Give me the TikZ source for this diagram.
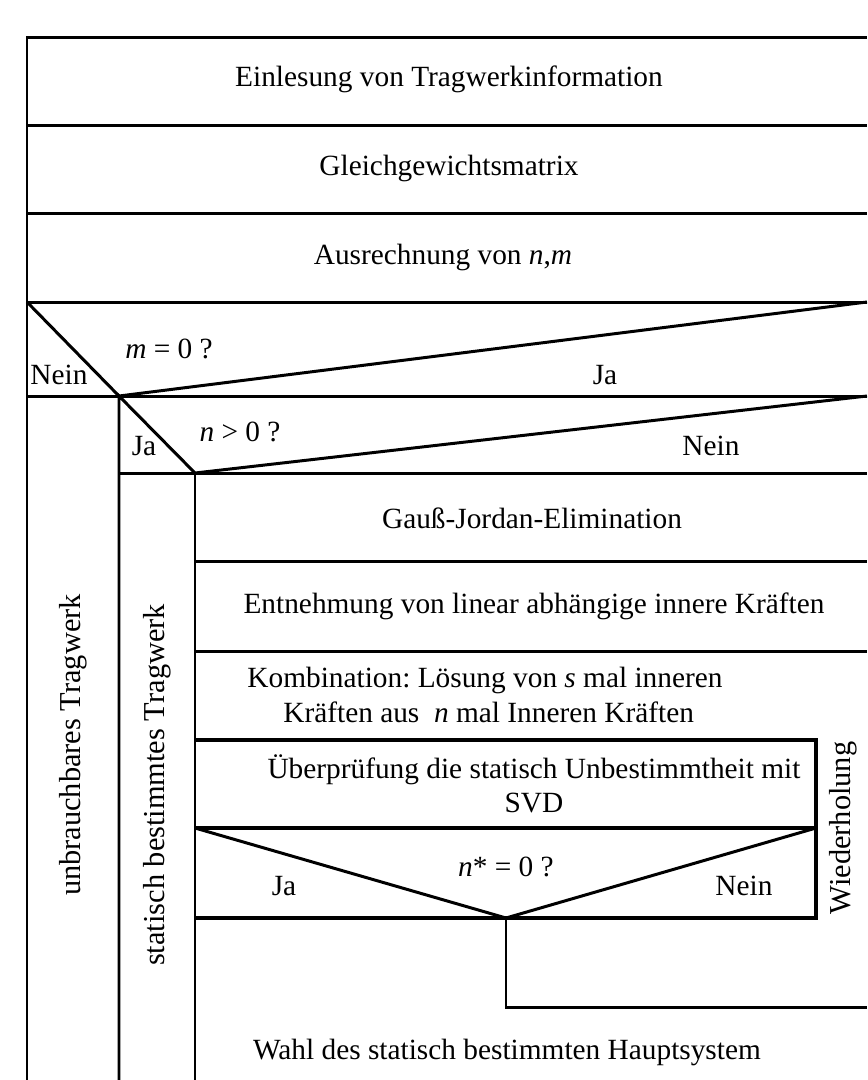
\documentclass[tikz,border=0pt]{standalone}
\usepackage{fontspec}
\setmainfont{Liberation Serif}
\usepackage{tikz}
\usetikzlibrary{positioning}
\frenchspacing

\tikzset{
  rule/.style={line width=1.7pt},
  boxrule/.style={line width=2.2pt},
  lbl/.style={font=\fontsize{16.7}{19.5}\selectfont, inner sep=0pt, align=center},
  side/.style={lbl, font=\fontsize{17.3}{20}\selectfont, rotate=90},
}

\begin{document}
\begin{tikzpicture}[x=0.02cm,y=-0.02cm]
\useasboundingbox (0,0) rectangle (867,1080);

\coordinate (tl) at (27,37);
\coordinate (tr) at (867,37);
\coordinate (ml) at (27,302);
\coordinate (mr) at (867,302);
\coordinate (mtip) at (119,396);
\coordinate (nr) at (867,396);
\coordinate (ntip) at (195,473);
\coordinate (nr2) at (867,473);
\coordinate (bl) at (27,1080);
\coordinate (bm) at (119,1080);
\coordinate (bi) at (195,1080);

% Nassi-Shneiderman frame
\draw[rule] (bl) -- (tl) -- (tr);
\foreach \y in {125,213} \draw[rule] (27,\y) -- (867,\y);
\draw[rule] (ml) -- (mr);
\draw[rule] (ml) -- (mtip) -- (mr);
\draw[rule] (mtip -| tl) -- (nr);
\draw[rule] (bm) -- (mtip) -- (ntip) -- (nr);
\draw[rule] (mtip |- ntip) -- (nr2);
\draw[rule] (bi) -- (ntip);
\foreach \y in {561,651} \draw[rule] (195,\y) -- (867,\y);

% loop body
\coordinate (bxtl) at (195,740);
\coordinate (bxtr) at (816,740);
\coordinate (dl) at (195,828);
\coordinate (dr) at (816,828);
\coordinate (dtip) at (506,918);
\coordinate (bxbr) at (816,918);
\coordinate (loopc) at (506,1007);
\coordinate (loope) at (867,1007);
\draw[boxrule] (bxtl) -- (bxtr) -- (bxbr) -- (bxbr -| bxtl);
\draw[boxrule] (dl) -- (dr);
\draw[rule] (dl) -- (dtip) -- (dr);
\draw[rule] (dtip) -- (loopc) -- (loope);

\node[lbl] (einl) at (449,79) {Einlesung von Tragwerkinformation};
\node[lbl] (ggm) at (449,168) {Gleichgewichtsmatrix};
\node[lbl] (ausr) at (443,257) {Ausrechnung von \textit{n},\textit{m}};
\node[lbl] (mq) at (169,349) {\textit{m} = 0 ?};
\node[lbl] (mnein) at (59,375) {Nein};
\node[lbl] (mja) at (605,375) {Ja};
\node[lbl] (nq) at (240,432) {\textit{n} > 0 ?};
\node[lbl] (nja) at (144,446) {Ja};
\node[lbl] (nnein) at (711,446) {Nein};
\node[lbl] (gauss) at (532,518) {Gauß-Jordan-Elimination};
\node[lbl] (entn) at (534,606) {Entnehmung von linear abhängige innere Kräften};
\node[lbl] (komb) at (485,695) {Kombination: Lösung von \textit{s} mal inneren\\
  \ Kräften aus \ \textit{n} mal Inneren Kräften};
\node[lbl] (pruef) at (534,784) {Überprüfung die statisch Unbestimmtheit mit\\SVD};
\node[lbl] (nsq) at (506,867) {\textit{n}* = 0 ?};
\node[lbl] (nsja) at (284,886) {Ja};
\node[lbl] (nsnein) at (744,886) {Nein};
\node[lbl] (wahl) at (507,1052) {Wahl des statisch bestimmten Hauptsystem};
\node[side] (unbr) at (73,745) {unbrauchbares Tragwerk};
\node[side] (stat) at (157,785) {statisch bestimmtes Tragwerk};
\node[side] (wied) at (843,828) {Wiederholung};
\end{tikzpicture}
\end{document}
